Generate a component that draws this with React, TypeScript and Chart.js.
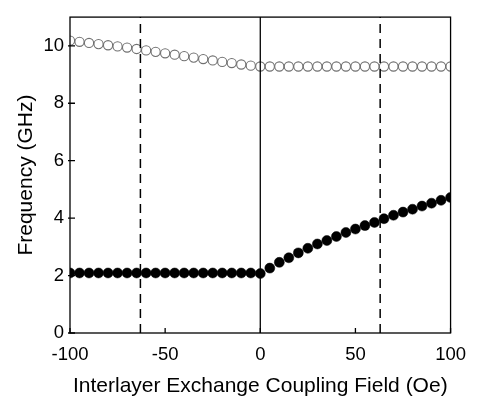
import React, { useEffect, useRef } from "react";
import { Chart, registerables } from "chart.js";

Chart.register(...registerables);

const fieldOe = [
  -100, -95, -90, -85, -80, -75, -70, -65, -60, -55, -50, -45, -40, -35, -30, -25, -20, -15, -10, -5,
  0, 5, 10, 15, 20, 25, 30, 35, 40, 45, 50, 55, 60, 65, 70, 75, 80, 85, 90, 95, 100,
];

const upperFreq = [
  10.18, 10.14, 10.1, 10.06, 10.02, 9.98, 9.94, 9.89, 9.84, 9.79, 9.74, 9.69, 9.64, 9.59, 9.54, 9.49,
  9.44, 9.4, 9.35, 9.31, 9.28, 9.28, 9.28, 9.28, 9.28, 9.28, 9.28, 9.28, 9.28, 9.28, 9.28, 9.28, 9.28,
  9.28, 9.28, 9.28, 9.28, 9.28, 9.28, 9.28, 9.28,
];

const lowerFreq = [
  2.09, 2.09, 2.09, 2.09, 2.09, 2.09, 2.09, 2.09, 2.09, 2.09, 2.09, 2.09, 2.09, 2.09, 2.09, 2.09, 2.09,
  2.09, 2.09, 2.09, 2.07, 2.26, 2.46, 2.62, 2.79, 2.95, 3.1, 3.22, 3.36, 3.5, 3.62, 3.74, 3.85, 3.98,
  4.1, 4.21, 4.31, 4.42, 4.52, 4.62, 4.72,
];

const dashedLinesOe = [-63, 63];
const solidLineOe = 0;

const xTicks = [-100, -50, 0, 50, 100];
const yTicks = [0, 2, 4, 6, 8, 10];
const yMin = 0;
const yMax = 11;

const FONT = "'Liberation Sans', Arial, sans-serif";

const framePlugin = {
  id: "frame",
  afterDatasetsDraw(chart: any) {
    const { ctx, chartArea, scales } = chart;
    const { left, right, top, bottom } = chartArea;
    ctx.save();
    ctx.strokeStyle = "#000";
    ctx.lineWidth = 1.3;
    ctx.strokeRect(left, top, right - left, bottom - top);
    ctx.beginPath();
    for (const v of xTicks) {
      const px = scales.x.getPixelForValue(v);
      ctx.moveTo(px, bottom);
      ctx.lineTo(px, bottom - 5);
    }
    for (const v of yTicks) {
      const py = scales.y.getPixelForValue(v);
      ctx.moveTo(left - 2, py);
      ctx.lineTo(left + 5, py);
    }
    ctx.stroke();
    ctx.restore();
  },
};

export default function App() {
  const ref = useRef<HTMLCanvasElement>(null);

  useEffect(() => {
    document.body.style.margin = "0";
    const canvas = ref.current!;
    const lineDatasets: any[] = dashedLinesOe.map((x) => ({
      type: "line",
      data: [
        { x, y: yMin },
        { x, y: yMax },
      ],
      borderColor: "#000",
      borderWidth: 1.5,
      borderDash: [9, 6],
      pointRadius: 0,
      fill: false,
    }));
    lineDatasets.push({
      type: "line",
      data: [
        { x: solidLineOe, y: yMin },
        { x: solidLineOe, y: yMax },
      ],
      borderColor: "#000",
      borderWidth: 1.3,
      pointRadius: 0,
      fill: false,
    });

    const chart = new Chart(canvas, {
      type: "scatter",
      data: {
        datasets: [
          ...lineDatasets,
          {
            data: fieldOe.map((x, i) => ({ x, y: upperFreq[i] })),
            pointRadius: 4.6,
            pointBackgroundColor: "rgba(255,255,255,0)",
            pointBorderColor: "#707070",
            pointBorderWidth: 1.1,
            showLine: false,
          },
          {
            data: fieldOe.map((x, i) => ({ x, y: lowerFreq[i] })),
            pointRadius: 5,
            pointBackgroundColor: "#000",
            pointBorderColor: "#000",
            pointBorderWidth: 0.5,
            showLine: false,
          },
        ],
      },
      options: {
        animation: false,
        responsive: false,
        layout: { padding: { top: 3, right: 24, left: 0, bottom: 0 } },
        plugins: {
          legend: { display: false },
          tooltip: { enabled: false },
        },
        scales: {
          x: {
            type: "linear",
            min: -100,
            max: 100,
            afterBuildTicks: (s: any) => {
              s.ticks = xTicks.map((v) => ({ value: v }));
            },
            afterFit: (s: any) => {
              s.height = 72;
            },
            grid: { display: false, drawTicks: false },
            border: { display: false },
            ticks: {
              color: "#000",
              padding: 11,
              maxRotation: 0,
              font: { family: FONT, size: 18.5 },
            },
            title: {
              display: true,
              text: "Interlayer Exchange Coupling Field (Oe)",
              color: "#000",
              font: { family: FONT, size: 21 },
              padding: { top: 0, bottom: 6 },
            },
          },
          y: {
            type: "linear",
            min: yMin,
            max: yMax,
            afterBuildTicks: (s: any) => {
              s.ticks = yTicks.map((v) => ({ value: v }));
            },
            afterFit: (s: any) => {
              s.width = 70;
            },
            grid: { display: false, drawTicks: false },
            border: { display: false },
            ticks: {
              color: "#000",
              padding: 6,
              font: { family: FONT, size: 18.5 },
            },
            title: {
              display: true,
              text: "Frequency (GHz)",
              color: "#000",
              font: { family: FONT, size: 21 },
              padding: { top: 14, bottom: 0 },
            },
          },
        },
      },
      plugins: [framePlugin],
    } as any);
    return () => chart.destroy();
  }, []);

  return <canvas ref={ref} width={477} height={405} style={{ display: "block" }} />;
}
